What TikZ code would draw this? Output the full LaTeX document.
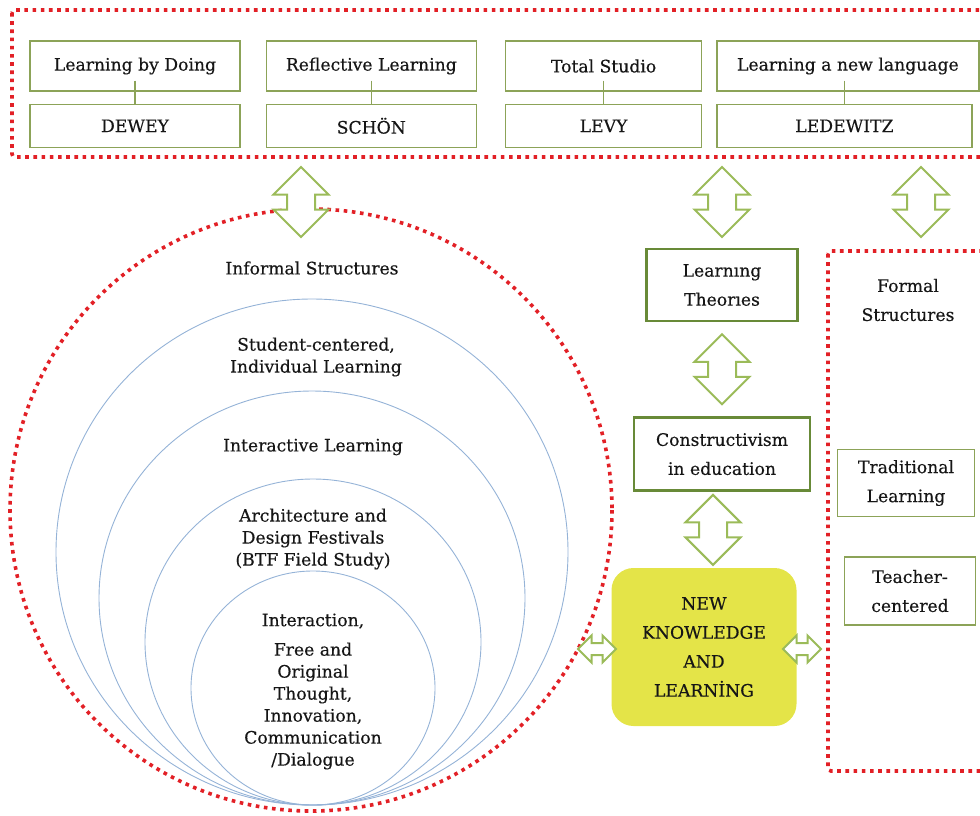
\documentclass[tikz,border=0pt]{standalone}
\usepackage{fontspec}
\setmainfont{DejaVu Serif}[FakeBold=0.4]
\usepackage{xcolor}
\usepackage{tikz}
\usetikzlibrary{shapes,arrows,positioning,calc,arrows.meta}

\definecolor{dotred}{RGB}{226,32,38}
\definecolor{boxgreen}{RGB}{140,163,88}
\definecolor{darkgreen}{RGB}{104,138,56}
\definecolor{arrowgreen}{RGB}{155,187,89}
\definecolor{ringblue}{RGB}{149,179,215}
\definecolor{newyellow}{RGB}{228,228,72}
\definecolor{ink}{RGB}{22,22,22}

\tikzset{
  frame/.style={draw=dotred, line width=3.6pt, dash pattern=on 3.6pt off 4.6pt},
  ring/.style={draw=ringblue, line width=0.9pt},
  thinbox/.style={draw=boxgreen, line width=1.3pt, rectangle, inner sep=0pt, minimum height=50pt},
  thickbox/.style={draw=darkgreen, line width=2.6pt, rectangle, inner sep=0pt, font=\fontsize{17.2}{29}\selectfont},
  wide/.style={font=\fontsize{17.2}{29}\selectfont},
  newbox/.style={fill=newyellow, rounded corners=22pt, minimum width=185pt, minimum height=158pt, font=\fontsize{17.2}{29}\selectfont},
  link/.style={draw=boxgreen, line width=1.1pt},
  vdbl/.style={double arrow, draw=arrowgreen, fill=white, line width=2pt, inner sep=0pt, inner ysep=13pt,
    double arrow head extend=13.5pt, minimum height=70pt, rotate=90},
  hdbl/.style={double arrow, draw=arrowgreen, fill=white, line width=2pt, inner sep=0pt, inner ysep=5pt,
    double arrow head extend=7.5pt, minimum height=38pt}
}

\begin{document}
\begin{tikzpicture}[x=1pt, y=-1pt, auto, font=\fontsize{17.2}{22}\selectfont, text=ink,
    every node/.append style={align=center}]
    \useasboundingbox (0,0) rectangle (980,815);

    % theorists
    \draw [frame, rounded corners=3pt] (12,10) rectangle (1000,157);
    \node [thinbox, minimum width=210pt] (doing) at (135,66) {Learning by Doing};
    \node [thinbox, minimum width=210pt, minimum height=43pt, below=12pt of doing] (dewey) {DEWEY};
    \node [thinbox, minimum width=210pt, right=25pt of doing] (reflect) {Reflective Learning};
    \node [thinbox, minimum width=210pt, minimum height=43pt, below=12pt of reflect] (schon) {SCHÖN};
    \node [thinbox, minimum width=196pt, right=28pt of reflect] (studio) {Total Studio};
    \node [thinbox, minimum width=196pt, minimum height=43pt, below=12pt of studio] (levy) {LEVY};
    \node [thinbox, minimum width=262pt, right=14pt of studio] (language) {Learning a new language};
    \node [thinbox, minimum width=255pt, minimum height=43pt, below right=12pt and 0pt of language.south west] (ledewitz) {LEDEWITZ};

    \draw [link] ([yshift=11pt]doing.south) -- (dewey);
    \draw [link] ([yshift=11pt]reflect.south) -- (schon);
    \draw [link] ([yshift=11pt]studio.south) -- (levy);
    \draw [link] ([yshift=11pt]ledewitz.north |- language.south) -- (ledewitz);

    % informal structures
    \draw [ring] (312,552) ellipse [x radius=256, y radius=253];
    \draw [ring] (312,598) ellipse [x radius=213, y radius=207];
    \draw [ring] (313,642) ellipse [x radius=168, y radius=163];
    \draw [ring] (313,688) ellipse [x radius=122, y radius=117];
    \draw [frame] (311,510) circle [radius=301];

    \node (informal) at (312,268) {Informal Structures};
    \node (student) at (316,357) {Student-centered,\\Individual Learning};
    \node (interact) at (313,447) {Interactive Learning};
    \node (festival) at (313,539) {Architecture and\\Design Festivals\\(BTF Field Study)};
    \node (interaction) at (313,621) {Interaction,};
    \node (free) at (313,706) {Free and\\Original\\Thought,\\Innovation,\\Communication\\/Dialogue};

    % theory column
    \node [thickbox, minimum width=151pt, minimum height=72pt] (theory) at (722,285) {Learnıng\\Theorıes};
    \node [thickbox, minimum width=176pt, minimum height=73pt, below=94pt of theory] (constr) {Constructivism\\in education};
    \node [newbox] (newk) at (704,647) {NEW\\KNOWLEDGE\\AND\\LEARNİNG};

    % formal structures
    \draw [frame, rounded corners=3pt] (828,251) rectangle (1000,771);
    \node [wide] (formal) at (908,300) {Formal\\Structures};
    \node [thinbox, wide, minimum width=137pt, minimum height=67pt] (trad) at (906,483) {Traditional\\Learning};
    \node [thinbox, wide, minimum width=131pt, minimum height=68pt] (teacher) at (910,591) {Teacher-\\centered};

    % block arrows
    \node [vdbl] (up1) at (301,202) {};
    \node [vdbl] (up2) at (722,202) {};
    \node [vdbl] (up3) at (921,202) {};
    \node [vdbl] (mid1) at ($(theory.south)!0.5!(constr.north)$) {};
    \node [vdbl] (mid2) at ($(constr.south)!0.5!(newk.north)$) {};
    \node [hdbl] (side1) at (597,649) {};
    \node [hdbl] (side2) at (802,649) {};

\end{tikzpicture}
\end{document}
